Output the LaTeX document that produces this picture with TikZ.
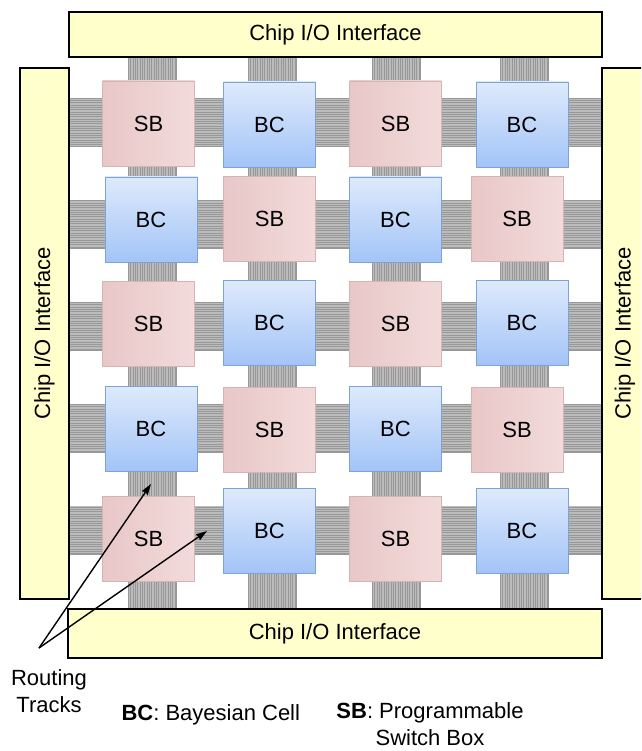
\documentclass[tikz,border=0pt]{standalone}
\usepackage{fontspec}
\setmainfont{Liberation Sans}
\usetikzlibrary{arrows.meta}

\definecolor{ioFill}{RGB}{255,255,204}
\definecolor{trackBase}{RGB}{152,152,152}
\definecolor{trackLine}{RGB}{188,188,188}
\definecolor{sbA}{RGB}{232,199,199}
\definecolor{sbB}{RGB}{243,219,219}
\definecolor{sbEdge}{RGB}{214,180,180}
\definecolor{bcA}{RGB}{222,234,252}
\definecolor{bcB}{RGB}{163,196,247}
\definecolor{bcEdge}{RGB}{125,163,215}

\tikzset{
  lbl/.style={font=\fontsize{22}{27}\selectfont},
  io/.style={lbl, draw=black, fill=ioFill, line width=1.2pt, inner sep=0pt},
  cell/.style={lbl, minimum width=92pt, minimum height=85pt, inner sep=0pt, line width=0.8pt},
  sbcell/.style={cell, draw=sbEdge, left color=sbA, right color=sbB},
  bccell/.style={cell, draw=bcEdge, top color=bcA, bottom color=bcB},
  stripe/.style={trackLine, line width=0.5pt},
  arrowline/.style={line width=1.4pt, -{Stealth[length=11pt,width=7pt,inset=1pt]}}
}

\begin{document}
\begin{tikzpicture}[x=1pt,y=-1pt]
  \path[use as bounding box] (0,0) rectangle (641,751);
  \clip (0,0) rectangle (641,751);

  % horizontal routing channels
  \foreach \y in {123,224.5,326.5,428.5,530} {
    \fill[trackBase] (69,\y-24.5) rectangle (602,\y+24.5);
    \foreach \k in {-23.5,-21.75,...,23.5}
      \draw[stripe] (69,\y+\k) -- (602,\y+\k);
  }
  % vertical routing channels
  \foreach \x in {152.5,272.5,396.5,524.5} {
    \fill[trackBase] (\x-24.5,57) rectangle (\x+24.5,609);
    \foreach \k in {-23.5,-21.75,...,23.5}
      \draw[stripe] (\x+\k,57) -- (\x+\k,609);
  }

  % row 1
  \node[sbcell] (sb11) at (148.5,123.5) {SB};
  \node[bccell] (bc12) at (269.5,124.5) {BC};
  \node[sbcell] (sb13) at (395.5,123.5) {SB};
  \node[bccell] (bc14) at (522,124.5) {BC};
  % row 2
  \node[bccell] (bc21) at (151,219.5) {BC};
  \node[sbcell] (sb22) at (269.5,219) {SB};
  \node[bccell] (bc23) at (395.5,219.5) {BC};
  \node[sbcell] (sb24) at (517,219) {SB};
  % row 3
  \node[sbcell] (sb31) at (148.5,323.5) {SB};
  \node[bccell] (bc32) at (269.5,322.5) {BC};
  \node[sbcell] (sb33) at (395.5,323.5) {SB};
  \node[bccell] (bc34) at (522,322.5) {BC};
  % row 4
  \node[bccell] (bc41) at (151,428.5) {BC};
  \node[sbcell] (sb42) at (269.5,429.5) {SB};
  \node[bccell] (bc43) at (395.5,428.5) {BC};
  \node[sbcell] (sb44) at (517,429.5) {SB};
  % row 5
  \node[sbcell] (sb51) at (148.5,538.5) {SB};
  \node[bccell] (bc52) at (269.5,530.5) {BC};
  \node[sbcell] (sb53) at (395.5,538.5) {SB};
  \node[bccell] (bc54) at (522,530.5) {BC};

  % chip I/O ring
  \node[io, minimum width=533pt, minimum height=45pt] (ioTop) at (335.5,34.5) {Chip I/O Interface};
  \node[io, minimum width=534pt, minimum height=49pt] (ioBottom) at (335,633.5) {Chip I/O Interface};
  \node[io, rotate=90, minimum width=531pt, minimum height=49pt] (ioLeft) at (44.5,333.5) {Chip I/O Interface};
  \node[io, rotate=90, minimum width=531pt, minimum height=46pt] (ioRight) at (625,333.5) {Chip I/O Interface};

  % routing-track callout
  \node[lbl, align=center] (routing) at (49,691.5) {Routing\\Tracks};
  \coordinate (rtOrigin) at (39,648);
  \coordinate (rtTipA) at (151,484);
  \coordinate (rtTipB) at (207,531);
  \draw[arrowline] (rtOrigin) -- (rtTipA);
  \draw[arrowline] (rtOrigin) -- (rtTipB);

  % legend
  \node[lbl, anchor=west] (legendBC) at (118,715) {\textbf{BC}: Bayesian Cell};
  \node[lbl, align=center] (legendSB) at (430,724.5) {\textbf{SB}: Programmable\\Switch Box};
\end{tikzpicture}
\end{document}
